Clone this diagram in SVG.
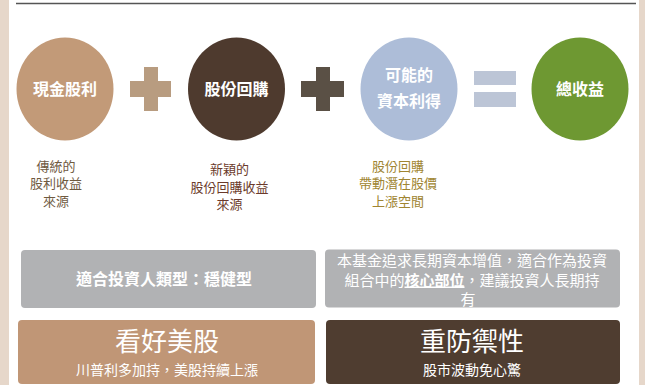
<svg xmlns="http://www.w3.org/2000/svg" width="645" height="385" viewBox="0 0 645 385">
<style>
.t{font-family:"Noto Sans CJK TC","Noto Sans",sans-serif;text-anchor:middle}
.w{fill:#fff}
.b{font-weight:bold}
.lbl{font-size:16px;font-weight:bold;fill:#fff}
.sub{font-size:13px}
</style>
<rect x="0" y="0" width="645" height="385" fill="#fff"/>
<rect x="0" y="0" width="9" height="385" fill="#e6d7ca"/>
<rect x="639" y="0" width="6" height="385" fill="#e6d7ca"/>
<line x1="16" y1="3.5" x2="636" y2="3.5" stroke="#555" stroke-width="1.5"/>
<g id="connectors">
<g id="plus1" fill="#b89c80">
<rect x="130" y="81" width="41" height="16"/>
<rect x="144" y="67" width="14" height="44"/>
</g>
<g id="plus2" fill="#5a5045">
<rect x="301" y="81" width="43" height="16"/>
<rect x="316" y="67" width="14" height="44"/>
</g>
<g id="equals" fill="#bcc5d6">
<rect x="474" y="71" width="42" height="14"/>
<rect x="474" y="92" width="42" height="15"/>
</g>
</g>
<g id="n1">
<ellipse cx="65" cy="89" rx="48.5" ry="51.5" fill="#c29a78"/>
<text class="t lbl" x="65" y="94.5">現金股利</text>
<text class="t sub" fill="#6f5a3f"><tspan x="56" y="170.8">傳統的</tspan><tspan x="56" y="188.3">股利收益</tspan><tspan x="56" y="205.8">來源</tspan></text>
</g>
<g id="n2">
<ellipse cx="236.5" cy="89" rx="48.5" ry="51.5" fill="#4e3a2e"/>
<text class="t lbl" x="236.5" y="94.5">股份回購</text>
<text class="t sub" fill="#6b3a2a"><tspan x="229.5" y="174">新穎的</tspan><tspan x="229.5" y="191.5">股份回購收益</tspan><tspan x="229.5" y="209">來源</tspan></text>
</g>
<g id="n3">
<ellipse cx="409" cy="89" rx="48.5" ry="51.5" fill="#adbdd8"/>
<text class="t lbl" x="409" y="81">可能的</text>
<text class="t lbl" x="409" y="106.5">資本利得</text>
<text class="t sub" fill="#a08531"><tspan x="398" y="170.8">股份回購</tspan><tspan x="398" y="188.3">帶動潛在股價</tspan><tspan x="398" y="205.8">上漲空間</tspan></text>
</g>
<g id="n4">
<ellipse cx="580" cy="89" rx="48.5" ry="51.5" fill="#6e9832"/>
<text class="t lbl" x="580" y="94.5">總收益</text>
</g>
<g id="box1">
<rect x="21" y="250" width="295" height="58" rx="4" fill="#b1b2b4"/>
<text class="t w b" x="164" y="285" font-size="16">適合投資人類型：穩健型</text>
</g>
<g id="box2">
<rect x="325" y="249.5" width="295" height="58" rx="4" fill="#b1b2b4"/>
<text class="t w" font-size="15"><tspan x="472" y="266">本基金追求長期資本增值，適合作為投資</tspan><tspan x="472" y="285.5">組合中的<tspan font-weight="bold" text-decoration="underline">核心部位</tspan>，建議投資人長期持</tspan><tspan x="468" y="304.5">有</tspan></text>
</g>
<g id="box3">
<rect x="18" y="320" width="297" height="64" rx="4" fill="#c09676"/>
<text class="t w" x="167" y="351" font-size="26">看好美股</text>
<text class="t w" x="167" y="375" font-size="14">川普利多加持，美股持續上漲</text>
</g>
<g id="box4">
<rect x="326" y="320" width="294" height="64" rx="4" fill="#4f3d30"/>
<text class="t w" x="472" y="351" font-size="26">重防禦性</text>
<text class="t w" x="472" y="375" font-size="14">股市波動免心驚</text>
</g>
</svg>
